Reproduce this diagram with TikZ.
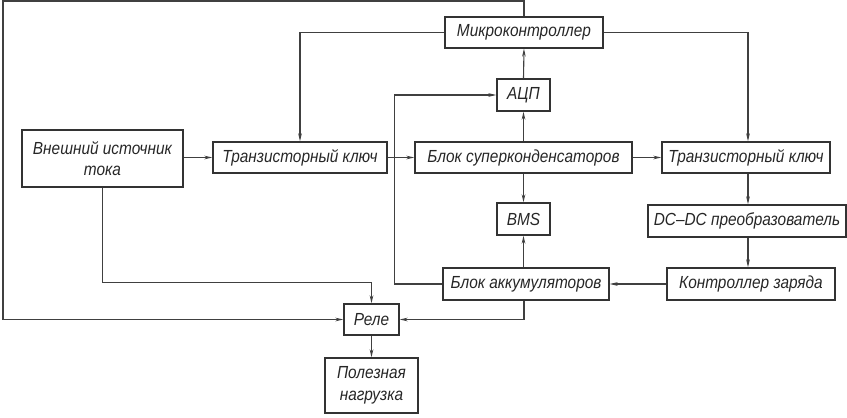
\documentclass[tikz,border=0pt]{standalone}
\usepackage{fontspec}
\setmainfont{Liberation Sans}[FakeStretch=0.88]
\usetikzlibrary{arrows.meta,calc}
\tikzset{
  blk/.style={draw=black!80, line width=1.3pt, inner sep=0pt, align=center,
    font=\fontsize{17.5}{21.5}\selectfont\itshape, text=black!85},
  con/.style={draw=black!75, line width=1.1pt, -{Stealth[length=8pt,width=3.6pt]}},
  ln/.style={draw=black!75, line width=1.1pt}
}
\begin{document}
\begin{tikzpicture}[x=1pt,y=-1pt]
\useasboundingbox (0,0) rectangle (847,418);
\node[blk, minimum width=158pt, minimum height=31pt] (mc) at (524,32.5) {Микроконтроллер};
\node[blk, minimum width=53pt, minimum height=32pt] (adc) at (523.5,95) {АЦП};
\node[blk, minimum width=161pt, minimum height=57pt] (ext) at (102.5,158.5) {Внешний источник\\тока};
\node[blk, minimum width=174pt, minimum height=31pt] (tk1) at (300,157.5) {Транзисторный ключ};
\node[blk, minimum width=217pt, minimum height=31pt] (sc) at (523.5,157.5) {Блок суперконденсаторов};
\node[blk, minimum width=168pt, minimum height=31pt] (tk2) at (746,157.5) {Транзисторный ключ};
\node[blk, minimum width=53pt, minimum height=32pt] (bms) at (523.5,219) {BMS};
\node[blk, minimum width=198pt, minimum height=32pt] (dcdc) at (747,221) {DC--DC преобразователь};
\node[blk, minimum width=168pt, minimum height=32pt] (kz) at (751,284) {Контроллер заряда};
\node[blk, minimum width=166pt, minimum height=32pt] (ba) at (526,284) {Блок аккумуляторов};
\node[blk, minimum width=55pt, minimum height=31pt] (rele) at (371.5,319.5) {Реле};
\node[blk, minimum width=93pt, minimum height=55pt] (pn) at (371.5,385.5) {Полезная\\нагрузка};
\coordinate (tl) at (3,1);

\draw[con] (ext.east |- tk1.west) -- (tk1.west);
\draw[con] (tk1.east) -- (sc.west);
\draw[con] (sc.east) -- (tk2.west);
\draw[con] (sc.north) -- (adc.south);
\draw[con] (adc.north) -- (mc.south);
\draw[con] (sc.south) -- (bms.north);
\draw[con] (ba.north -| bms.south) -- (bms.south);
\draw[con] (mc.west) -| (tk1.north);
\draw[con] (mc.east) -| ([xshift=2pt]tk2.north);
\draw[con] ([xshift=2pt]tk2.south) -- ([xshift=2pt]tk2.south |- dcdc.north);
\draw[con] ([xshift=1pt]dcdc.south) -- ([xshift=1pt]dcdc.south |- kz.north);
\draw[con] (kz.west) -- (ba.west -| ba.east);
\draw[con] (ba.west) -- ++(-48,0) |- (adc.west);
\draw[con] (ext.south) |- ([yshift=21pt]rele.north) -- (rele.north);
\draw[con] ([xshift=-2pt]ba.south) |- (rele.east);
\draw[con] (mc.north) |- (tl) |- (rele.west);
\draw[con] (rele.south) -- (pn.north);
\end{tikzpicture}
\end{document}
